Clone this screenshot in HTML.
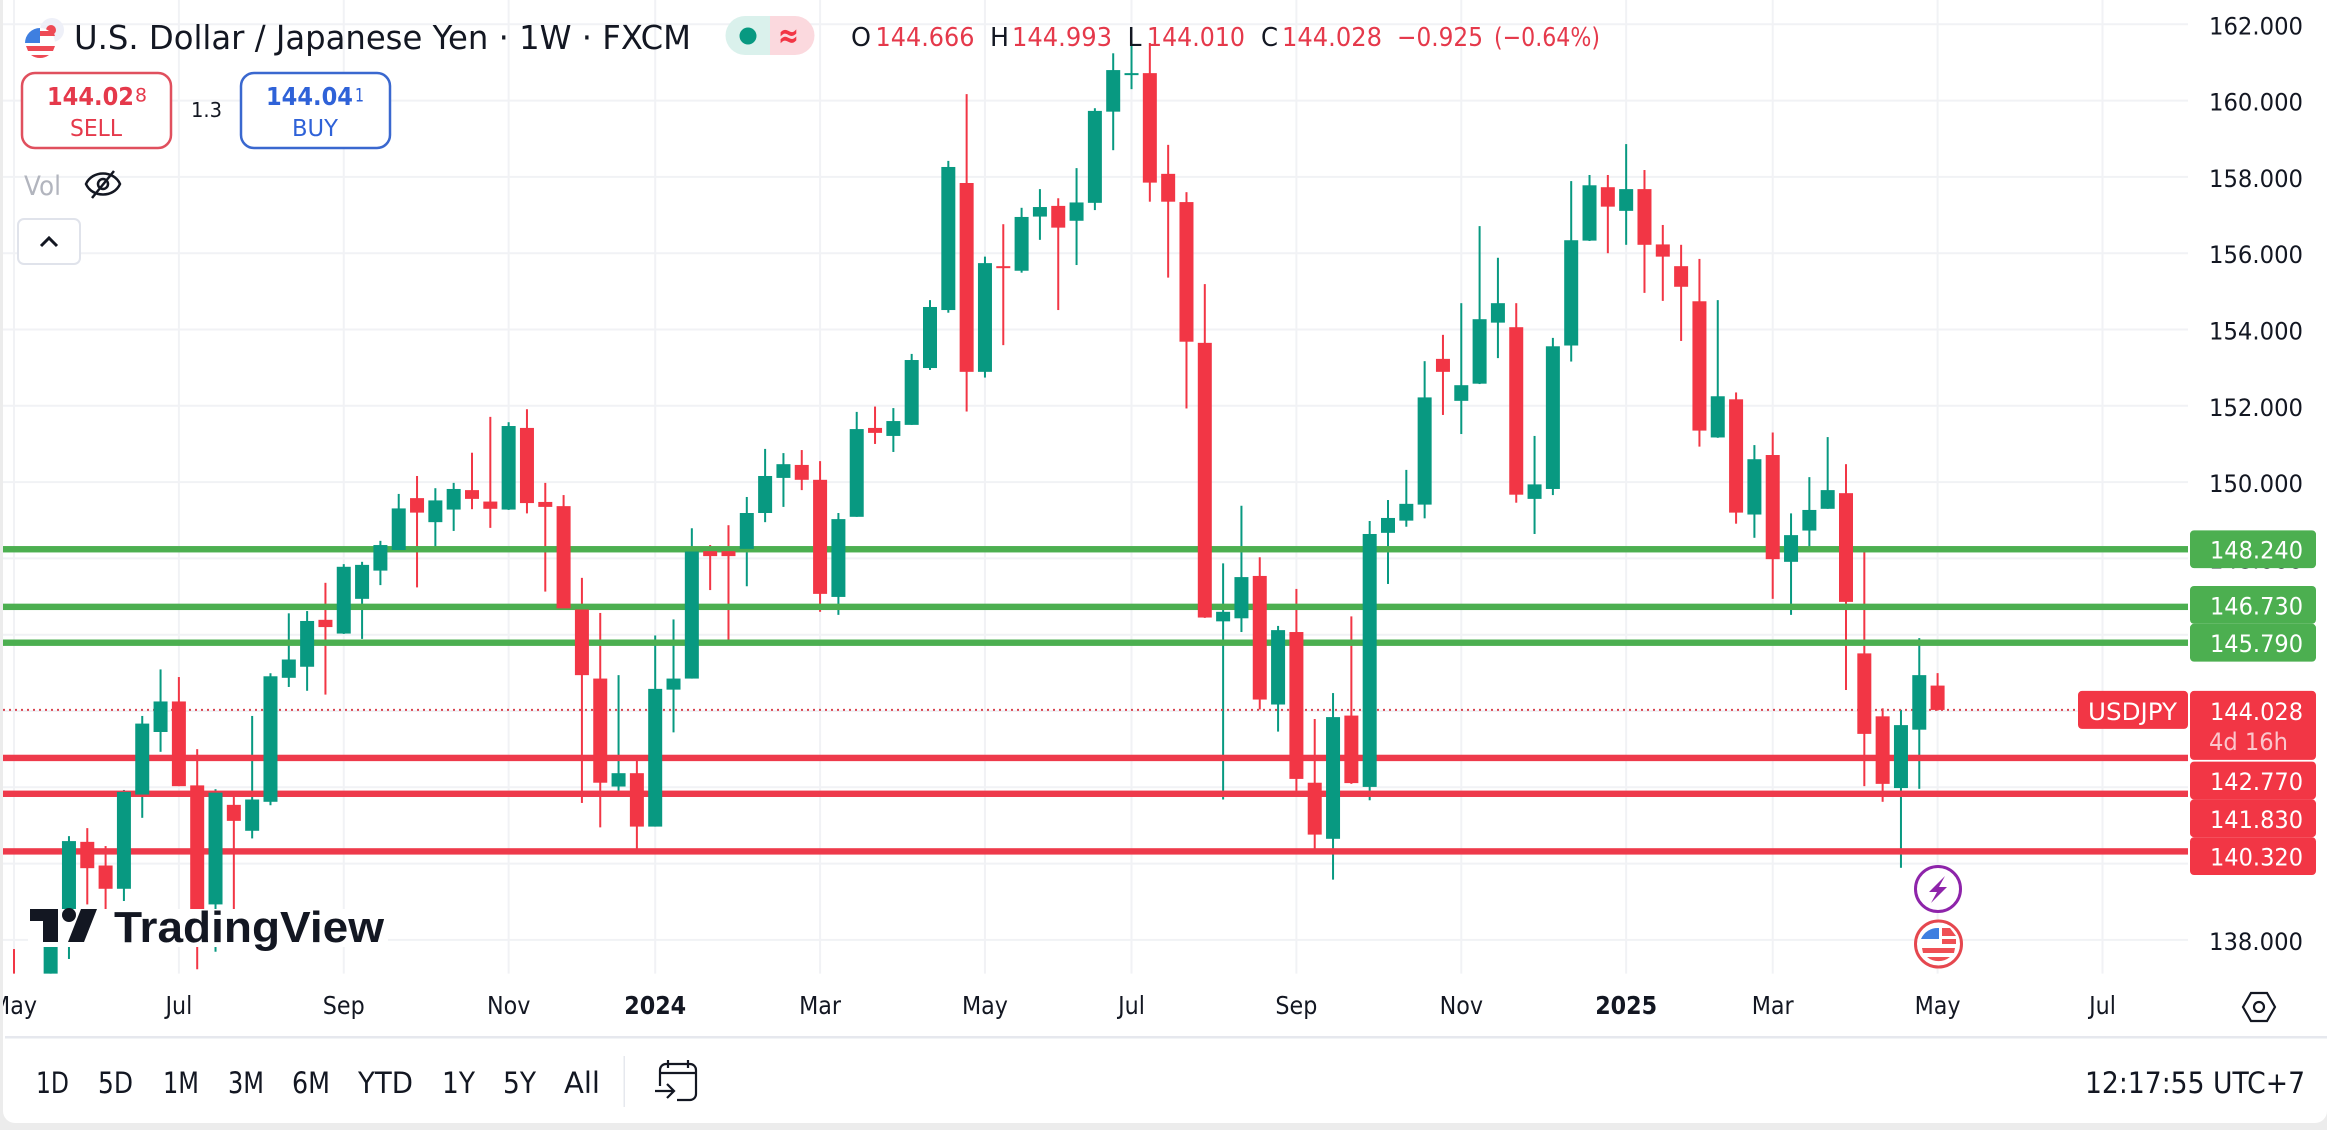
<!DOCTYPE html>
<html lang="en">
<head>
<meta charset="utf-8">
<title>USD/JPY weekly candlestick chart</title>
<style>
html,body{margin:0;padding:0;background:#ececec;width:2327px;height:1130px;overflow:hidden}
svg{display:block}
text{font-family:"DejaVu Sans","Liberation Sans",sans-serif;fill:#131722}
</style>
</head>
<body>
<svg id="chart" xmlns="http://www.w3.org/2000/svg" width="2327" height="1130" viewBox="0 0 2327 1130">
  <defs><clipPath id="plot-clip"><rect x="3" y="0" width="2185" height="973.6"/></clipPath></defs>
  <rect x="0" y="0" width="2327" height="1130" fill="#ececec"/>
  <rect x="3" y="-14" width="2324" height="1137" rx="12" fill="#ffffff"/>
  <g id="grid"></g>
  <g id="y-axis"></g>
  <g clip-path="url(#plot-clip)">
    <g id="wicks"></g>
    <line id="last-price-line" x1="3" x2="2078" stroke="#d9434f" stroke-width="2" stroke-dasharray="2 4"/>
    <g id="levels"></g>
    <g id="bodies"></g>
  </g>

  <g>
    <rect x="28" y="909" width="360" height="38" fill="#ffffff"/>
    <path d="M30 909H58V942H43V921H30Z" fill="#131722"/>
    <circle cx="69" cy="915" r="7" fill="#131722"/>
    <path d="M81 909H97L84 942H68Z" fill="#131722"/>
    <text x="114" y="942" font-size="44" font-weight="700" textLength="270" lengthAdjust="spacingAndGlyphs" style="font-family:'Liberation Sans',sans-serif">TradingView</text>
  </g>

  <g>
    <g>
      <circle cx="52" cy="30" r="12" fill="#eef0f8"/>
      <circle cx="51" cy="30" r="5" fill="#ee4a55"/>
      <circle cx="40" cy="43" r="15" fill="#ffffff"/>
      <path d="M25 43a15 15 0 0 1 15-15h0V43Z" fill="#3f7fe0"/>
      <path d="M40 31h13l2 5H40ZM26 46H55l-2 5H28ZM31 55h18a15 15 0 0 1-18 0Z" fill="#ee4a55"/>
    </g>
    <text x="74" y="49" font-size="33" textLength="617" lengthAdjust="spacingAndGlyphs">U.S. Dollar / Japanese Yen · 1W · FXCM</text>
    <path d="M770 16H745a19.500 19.500 0 0 0 0 39H770Z" fill="#daf1ec"/>
    <path d="M770 16H795a19.500 19.500 0 0 1 0 39H770Z" fill="#fbd9de"/>
    <circle cx="748" cy="36" r="8.500" fill="#089981"/>
    <text x="778" y="47" font-size="34" font-weight="700" textLength="21" lengthAdjust="spacingAndGlyphs" style="fill:#f23645">≈</text>
    <g font-size="26">
      <text x="851" y="46" textLength="20" lengthAdjust="spacingAndGlyphs">O</text>
      <text x="875.500" y="46" textLength="99" lengthAdjust="spacingAndGlyphs" style="fill:#e5394b">144.666</text>
      <text x="990" y="46" textLength="19" lengthAdjust="spacingAndGlyphs">H</text>
      <text x="1012" y="46" textLength="100" lengthAdjust="spacingAndGlyphs" style="fill:#e5394b">144.993</text>
      <text x="1127.500" y="46" textLength="14" lengthAdjust="spacingAndGlyphs">L</text>
      <text x="1147" y="46" textLength="98" lengthAdjust="spacingAndGlyphs" style="fill:#e5394b">144.010</text>
      <text x="1261" y="46" textLength="17" lengthAdjust="spacingAndGlyphs">C</text>
      <text x="1282" y="46" textLength="100" lengthAdjust="spacingAndGlyphs" style="fill:#e5394b">144.028</text>
      <text x="1397" y="46" textLength="86" lengthAdjust="spacingAndGlyphs" style="fill:#e5394b">−0.925</text>
      <text x="1494" y="46" textLength="106" lengthAdjust="spacingAndGlyphs" style="fill:#e5394b">(−0.64%)</text>
    </g>
  </g>

  <g>
    <rect x="22" y="73" width="149" height="75" rx="13" fill="#ffffff" stroke="#e0505e" stroke-width="2.500"/>
    <text x="47" y="105" font-size="25" font-weight="700" textLength="87" lengthAdjust="spacingAndGlyphs" style="fill:#e5394b">144.02</text>
    <text x="135" y="101.500" font-size="19" textLength="12" lengthAdjust="spacingAndGlyphs" style="fill:#e5394b">8</text>
    <text x="70" y="136" font-size="23" textLength="52" lengthAdjust="spacingAndGlyphs" style="fill:#e5394b">SELL</text>
  </g>
  <text x="191" y="117" font-size="20" textLength="31" lengthAdjust="spacingAndGlyphs">1.3</text>
  <g>
    <rect x="241" y="73" width="149" height="75" rx="13" fill="#ffffff" stroke="#3a68cf" stroke-width="2.500"/>
    <text x="266" y="105" font-size="25" font-weight="700" textLength="87" lengthAdjust="spacingAndGlyphs" style="fill:#2f62d8">144.04</text>
    <text x="355" y="101.500" font-size="19" textLength="9" lengthAdjust="spacingAndGlyphs" style="fill:#2f62d8">1</text>
    <text x="292" y="136" font-size="23" textLength="46" lengthAdjust="spacingAndGlyphs" style="fill:#2f62d8">BUY</text>
  </g>
  <text x="24" y="195" font-size="27" textLength="37" lengthAdjust="spacingAndGlyphs" style="fill:#b2b5be">Vol</text>
  <g fill="none" stroke="#131722" stroke-width="2.500">
    <path d="M86 184C92 170 114 170 120 184C114 198 92 198 86 184Z"/>
    <circle cx="103" cy="184" r="5"/>
    <line x1="92" y1="198" x2="114" y2="171"/>
  </g>
  <g>
    <rect x="18" y="219" width="62" height="45" rx="6" fill="#ffffff" stroke="#e0e3eb" stroke-width="2"/>
    <path d="M41 246L49 238L57 246" fill="none" stroke="#131722" stroke-width="3"/>
  </g>

  <g id="level-labels"></g>
  <g>
    <rect id="symbol-tag" x="2078" y="691" width="110" height="38" rx="4" fill="#f23645"/>
    <text x="2088" y="720" font-size="24" textLength="89" lengthAdjust="spacingAndGlyphs" style="fill:#ffffff">USDJPY</text>
    <rect id="price-tag" x="2190" y="691" width="126" height="69" rx="4" fill="#f23645"/>
    <text id="price-tag-text" x="2210" y="720" font-size="24" textLength="93" lengthAdjust="spacingAndGlyphs" style="fill:#ffffff"></text>
    <text x="2209" y="750" font-size="24" textLength="79" lengthAdjust="spacingAndGlyphs" style="fill:#fbc6cc">4d 16h</text>
  </g>

  <g>
    <circle cx="1938" cy="889" r="22.500" fill="#ffffff" stroke="#8e24aa" stroke-width="3"/>
    <path d="M1945 876L1929 892H1937L1931 903L1947 887H1939Z" fill="#8e24aa"/>
  </g>
  <g>
    <circle cx="1938.500" cy="944" r="23" fill="#ffffff" stroke="#e5474f" stroke-width="3"/>
    <path d="M1921 939a18 18 0 0 1 18-11V939Z" fill="#3f7fe0"/>
    <path d="M1942 928h8l6 8h-14ZM1942 939h14v5h-14ZM1922 948h33l-1 5h-31ZM1927 957h23a18 18 0 0 1-23 0Z" fill="#ef4f55"/>
  </g>

  <g id="x-axis"></g>
  <g fill="none" stroke="#131722" stroke-width="2.200">
    <path d="M2251 993H2267L2275 1007L2267 1021H2251L2243 1007Z"/>
    <circle cx="2259" cy="1007" r="5"/>
  </g>
  <rect x="5" y="1036" width="2322" height="2.500" fill="#e6e8ee"/>

  <g font-size="29">
    <text x="36" y="1093" textLength="33" lengthAdjust="spacingAndGlyphs">1D</text>
    <text x="98" y="1093" textLength="35" lengthAdjust="spacingAndGlyphs">5D</text>
    <text x="163" y="1093" textLength="36" lengthAdjust="spacingAndGlyphs">1M</text>
    <text x="228" y="1093" textLength="36" lengthAdjust="spacingAndGlyphs">3M</text>
    <text x="292" y="1093" textLength="38" lengthAdjust="spacingAndGlyphs">6M</text>
    <text x="358" y="1093" textLength="55" lengthAdjust="spacingAndGlyphs">YTD</text>
    <text x="442" y="1093" textLength="33" lengthAdjust="spacingAndGlyphs">1Y</text>
    <text x="503" y="1093" textLength="33" lengthAdjust="spacingAndGlyphs">5Y</text>
    <text x="564" y="1093" textLength="36" lengthAdjust="spacingAndGlyphs">All</text>
    <rect x="623.500" y="1056" width="1.500" height="51" fill="#e6e8ee"/>
    <g fill="none" stroke="#131722" stroke-width="2.200">
      <path d="M660 1086V1070a6 6 0 0 1 6-6H690a6 6 0 0 1 6 6V1094a6 6 0 0 1-6 6H677"/>
      <path d="M659 1073H696M668 1060V1068M688 1060V1068"/>
      <path d="M655 1091H674M667 1084L674 1091L667 1098"/>
    </g>
  </g>
  <text x="2085" y="1093" font-size="29" textLength="220" lengthAdjust="spacingAndGlyphs">12:17:55 UTC+7</text>
  <rect x="0" y="0" width="3" height="1130" fill="#ececec"/>
</svg>
<script>
const opens = [
137.08,136.40,136.82,138.13,140.57,139.95,139.34,141.81,143.45,144.25,
142.05,138.93,141.54,140.86,141.62,144.87,145.16,146.39,146.03,146.94,
147.68,148.22,149.58,148.95,149.28,149.79,149.49,149.28,151.42,149.48,
149.37,146.66,144.85,142.02,142.37,140.97,144.56,144.85,148.19,148.19,
148.25,149.19,150.11,150.45,150.06,146.99,149.09,151.42,151.21,151.50,
152.99,154.51,157.84,152.89,155.66,155.54,156.96,157.24,156.85,157.32,
159.71,160.67,160.72,158.08,157.34,153.65,146.35,146.43,147.54,144.17,
146.07,142.12,140.65,143.88,142.01,148.67,148.99,149.41,153.23,152.13,
152.58,154.18,154.06,149.56,149.82,153.58,156.33,157.73,157.11,157.68,
156.23,155.66,154.74,151.17,152.17,149.15,150.71,147.91,148.73,149.30,
149.71,145.51,143.86,141.98,143.51,144.666];
const highs = [
137.76,137.00,138.70,140.72,140.93,140.46,141.93,143.87,145.09,144.89,
143.00,141.95,141.81,143.87,144.99,146.56,146.62,147.36,147.85,147.91,
148.46,149.69,150.16,149.84,149.98,150.77,151.71,151.57,151.91,149.98,
149.66,147.49,146.57,144.94,142.74,145.98,146.40,148.79,148.35,148.87,
149.61,150.87,150.76,150.84,150.55,149.19,151.84,151.98,151.94,153.36,
154.77,158.42,160.17,155.91,156.76,157.19,157.68,157.44,158.23,159.80,
161.24,161.59,161.51,158.84,157.60,155.19,147.87,149.38,148.03,146.23,
147.20,143.79,144.47,146.48,148.98,149.53,150.32,153.17,153.86,154.69,
156.71,155.88,154.69,151.21,153.78,157.89,158.05,158.05,158.86,158.18,
156.74,156.22,155.85,154.77,152.35,150.97,151.30,149.18,150.13,151.18,
150.47,148.27,144.07,144.03,145.91,144.993];
const lows = [
136.43,136.20,136.70,137.50,138.93,138.76,139.02,141.20,142.93,142.03,
137.23,137.69,138.71,140.66,141.53,144.63,144.53,144.43,146.02,145.89,
147.30,148.22,147.24,148.18,148.72,149.29,148.80,149.27,149.18,147.13,
146.69,141.59,140.95,141.90,140.35,140.97,143.44,144.85,147.17,145.84,
147.27,148.95,149.35,149.79,146.60,146.52,149.09,151.00,150.79,151.50,
152.94,154.44,151.85,152.74,153.59,155.49,156.35,154.51,155.69,157.13,
158.70,160.30,157.35,155.36,151.93,146.44,141.68,146.07,144.04,143.46,
141.88,140.38,139.58,142.09,141.66,147.33,148.83,149.05,151.76,151.26,
152.57,153.25,149.46,148.64,149.66,153.16,156.32,156.00,156.22,154.96,
154.75,153.70,150.93,151.16,148.91,148.54,146.94,146.52,148.20,149.30,
144.55,142.03,141.62,139.89,141.96,144.010];
const closes = [
136.69,136.90,138.65,140.59,139.88,139.34,141.88,143.67,144.25,142.03,
138.71,141.86,141.12,141.68,144.91,145.35,146.36,146.20,147.78,147.83,
148.35,149.31,149.20,149.52,149.82,149.56,149.30,151.47,149.45,149.35,
146.69,144.94,142.12,142.37,140.97,144.58,144.85,148.18,148.06,148.06,
149.19,150.16,150.47,150.06,147.07,149.03,151.39,151.29,151.60,153.20,
154.59,158.26,152.89,155.74,155.61,156.95,157.21,156.67,157.33,159.73,
160.80,160.72,157.85,157.35,153.68,146.45,146.60,147.51,144.30,146.12,
142.22,140.76,143.84,142.11,148.64,149.06,149.43,152.22,152.89,152.54,
154.27,154.69,149.67,149.94,153.56,156.34,157.78,157.22,157.68,156.22,
155.91,155.12,151.35,152.25,149.20,150.60,147.98,148.61,149.27,149.79,
146.86,143.40,142.09,143.63,144.94,144.028];
const priceTicks = [162,160,158,156,154,152,150,148,146,144,142,140,138];
const timeTickBars = [0,9,18,27,35,44,53,61,70,79,88,96,105,114];
const timeTickLabels = ["May","Jul","Sep","Nov","2024","Mar","May","Jul","Sep","Nov","2025","Mar","May","Jul"];
const boldTimeLabels = ["2024","2025"];
const resistanceLevels = [148.24,146.73,145.79];
const supportLevels = [142.77,141.83,140.32];

const SVGNS = "http://www.w3.org/2000/svg";
const yScale = function (price) { return 24.3 + (162 - price) * 38.15; };
const xScale = function (bar) { return 14 + 18.32 * bar; };
const GREEN = "#089981", RED = "#f23645", LEVEL_GREEN = "#4caf50", LEVEL_RED = "#ee3a4b";
const PLOT_RIGHT = 2188, PLOT_BOTTOM = 973.6, LABEL_H = 37.8;

function make(tag, parent, props, content) {
  const node = document.createElementNS(SVGNS, tag);
  for (const key in props) node.setAttribute(key, props[key]);
  if (content !== undefined) node.textContent = content;
  parent.appendChild(node);
  return node;
}

const grid = document.getElementById("grid");
const yAxis = document.getElementById("y-axis");
const xAxis = document.getElementById("x-axis");
const wicks = document.getElementById("wicks");
const bodies = document.getElementById("bodies");
const levels = document.getElementById("levels");
const levelLabels = document.getElementById("level-labels");

priceTicks.forEach(function (price) {
  const y = yScale(price);
  const line = make("line", grid, { x1: 3, x2: PLOT_RIGHT, y1: y, y2: y, stroke: "#f1f2f5", "stroke-width": 2 });
  
  
  const label = make("text", yAxis, { x: 2209, y: y + 10, "font-size": 24.3, textLength: 94, lengthAdjust: "spacingAndGlyphs" }, price.toFixed(3));
  
  
});

timeTickBars.forEach(function (bar, i) {
  const x = xScale(bar);
  const line = make("line", grid, { x1: x, x2: x, y1: 0, y2: PLOT_BOTTOM, stroke: "#f1f2f5", "stroke-width": 2 });
  
  
  const isBold = boldTimeLabels.indexOf(timeTickLabels[i]) >= 0;
  const label = make("text", xAxis, {
    transform: "translate(" + x + ",1014) scale(0.89,1)",
    "text-anchor": "middle", "font-size": 25, "font-weight": isBold ? 700 : 400
  }, timeTickLabels[i]);
  
  
});

opens.forEach(function (open, i) {
  const close = closes[i];
  const colour = close >= open ? GREEN : RED;
  const x = xScale(i);
  const wick = make("rect", wicks, { x: x - 1, y: yScale(highs[i]), width: 2, height: yScale(lows[i]) - yScale(highs[i]), fill: colour });
  
  
  const top = yScale(Math.max(open, close));
  const bottom = yScale(Math.min(open, close));
  const body = make("rect", bodies, { x: x - 7, y: top, width: 14, height: Math.max(2, bottom - top), fill: colour });
  
  
});

const lastClose = closes[closes.length - 1];
const lastLine = document.getElementById("last-price-line");
lastLine.setAttribute("y1", yScale(lastClose));
lastLine.setAttribute("y2", yScale(lastClose));
const lastY = yScale(lastClose);
document.getElementById("symbol-tag").setAttribute("y", lastY - 19);
document.getElementById("price-tag").setAttribute("y", lastY - 19);
const priceTagText = document.getElementById("price-tag-text");
priceTagText.textContent = lastClose.toFixed(3);

function drawLevel(price, centre, colour) {
  const y = yScale(price);
  const line = make("rect", levels, { x: 3, y: y - 3.2, width: PLOT_RIGHT - 3, height: 6.4, fill: colour });
  
  
  const box = make("rect", levelLabels, { x: 2190, y: centre - LABEL_H / 2, width: 126, height: LABEL_H, rx: 4, fill: colour === LEVEL_GREEN ? LEVEL_GREEN : RED });
  
  
  const text = make("text", levelLabels, { x: 2210, y: centre + 9.5, "font-size": 24, textLength: 93, lengthAdjust: "spacingAndGlyphs", style: "fill:#ffffff" }, price.toFixed(3));
  
  
}

/* Labels stack without overlap, the way the price scale stacks them. */
let ceiling = Infinity;
resistanceLevels.slice().reverse().forEach(function (price) {
  const centre = Math.min(yScale(price), ceiling - LABEL_H);
  drawLevel(price, centre, LEVEL_GREEN);
  ceiling = centre;
});
let floor = lastY + 51.7;
supportLevels.forEach(function (price) {
  const centre = Math.max(yScale(price), floor + LABEL_H / 2);
  drawLevel(price, centre, LEVEL_RED);
  floor = centre + LABEL_H / 2;
});
</script>
</body>
</html>
